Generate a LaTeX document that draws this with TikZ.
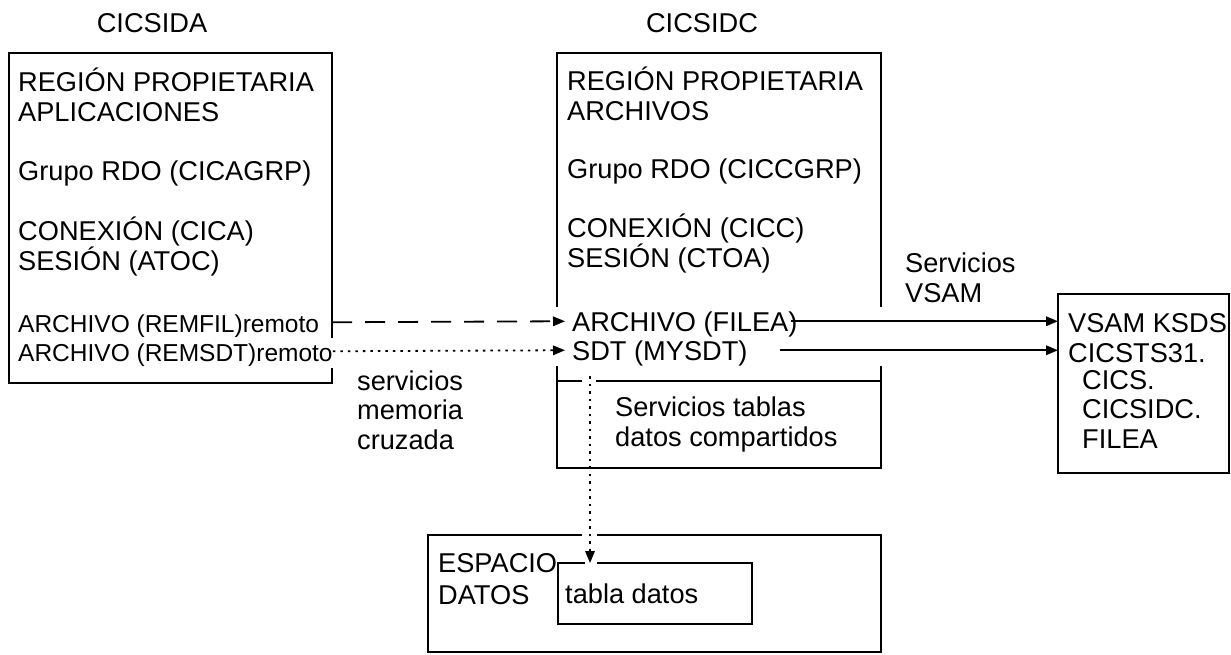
\documentclass[tikz,border=0pt]{standalone}
\usepackage{fontspec}
\setmainfont{Liberation Sans}
\usetikzlibrary{arrows.meta}

\tikzset{
  boxline/.style={line width=1.8pt},
  bigtext/.style={font=\fontsize{27.2}{29.5}\selectfont, inner sep=0pt, anchor=base west, align=left},
  smalltext/.style={font=\fontsize{24.5}{29}\selectfont, inner sep=0pt, anchor=base west},
  port/.style={text height=19.5pt, text depth=0pt},
  solidarrow/.style={line width=1.8pt, -{Triangle[length=12pt,width=9.5pt]}},
  dasharrow/.style={solidarrow, dash pattern=on 20pt off 13pt},
  dotarrow/.style={solidarrow, dash pattern=on 2.5pt off 5pt},
}

\begin{document}
\begin{tikzpicture}[x=1pt, y=-1pt]
      \useasboundingbox (0,0) rectangle (1231,654);

      \coordinate (aRight) at (332,53);
      \coordinate (vsamW) at (1058,294);
      \coordinate (tablaN) at (590,563);

      % region titles
      \node[bigtext, anchor=base] (cicsida) at (152,32) {CICSIDA};
      \node[bigtext, anchor=base] (cicsidc) at (702,32) {CICSIDC};

      % CICSIDA (multi-line nodes sit on their last baseline)
      \draw[boxline] (332,338) -- (332,53) -- (9,53) -- (9,383) -- (332,383) -- (332,368);
      \node[bigtext] (propA) at (18,121) {REGIÓN PROPIETARIA\\APLICACIONES};
      \node[bigtext] (grupoA) at (18,180) {Grupo RDO (CICAGRP)};
      \node[bigtext] (conA) at (18,270) {CONEXIÓN (CICA)\\SESIÓN (ATOC)};
      \node[smalltext, port] (remfil) at (18,332) {ARCHIVO (REMFIL)remoto};
      \node[smalltext, port] (remsdt) at (18,361) {ARCHIVO (REMSDT)remoto};

      % CICSIDC
      \draw[boxline] (557,307) -- (557,53) -- (881,53) -- (881,307);
      \draw[boxline] (557,366) -- (557,468) -- (881,468) -- (881,366);
      \draw[boxline] (557,381) -- (582,381) (596,381) -- (881,381);
      \node[bigtext] (propC) at (567,120) {REGIÓN PROPIETARIA\\ARCHIVOS};
      \node[bigtext] (grupoC) at (567,178) {Grupo RDO (CICCGRP)};
      \node[bigtext] (conC) at (567,267) {CONEXIÓN (CICC)\\SESIÓN (CTOA)};
      \node[bigtext, port] (filea) at (572,331) {ARCHIVO (FILEA)};
      \node[bigtext, port] (sdt) at (572,360) {SDT (MYSDT)};
      \node[bigtext] (sdtserv) at (615,446) {Servicios tablas\\datos compartidos};

      \node[bigtext] (memserv) at (357,449) {servicios\\memoria\\cruzada};
      \node[bigtext] (vsamserv) at (905,302) {Servicios\\VSAM};

      % VSAM data set
      \draw[boxline] (1058,294) rectangle (1229,473);
      \node[bigtext] (ksds) at (1068,362) {VSAM KSDS\\CICSTS31.};
      \node[bigtext] (dsn) at (1082,448) {CICS.\\CICSIDC.\\FILEA};

      % data space
      \draw[boxline] (582,535) -- (428,535) -- (428,652) -- (881,652) -- (881,535) -- (597,535);
      \draw[boxline] (585,563) -- (558,563) -- (558,624) -- (752,624) -- (752,563) -- (597,563);
      \node[bigtext] (espacio) at (438,604) {ESPACIO\\[2.5pt]DATOS};
      \node[bigtext] (tabla) at (565,603) {tabla datos};

      \draw[dasharrow] (remfil.east -| aRight) -- ([xshift=-7pt]filea.west);
      \draw[dotarrow] (remsdt.east) -- ([xshift=-7pt]sdt.west);
      \draw[solidarrow] ([xshift=-7pt]filea.east) -- (filea.east -| vsamW);
      \draw[solidarrow] ([xshift=32pt]sdt.east) -- (sdt.east -| vsamW);
      \draw[dotarrow] ([xshift=18pt,yshift=-16pt]sdt.base west) -- (tablaN);
    \end{tikzpicture}
\end{document}
